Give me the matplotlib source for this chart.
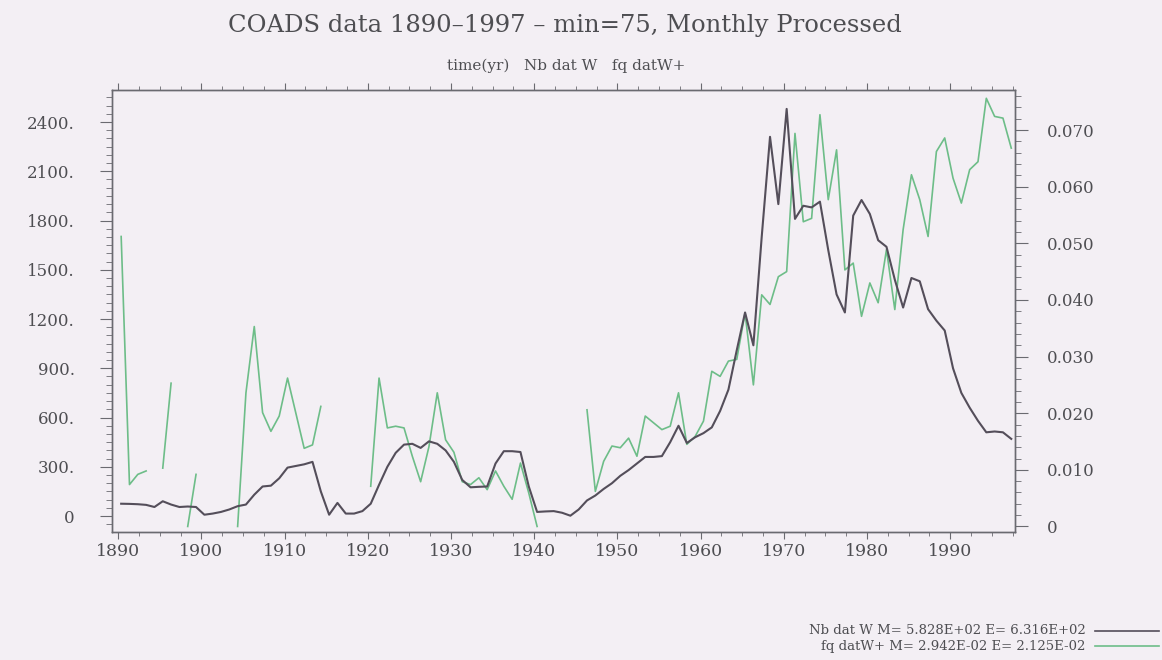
import numpy as np
import matplotlib
matplotlib.use("Agg")
import matplotlib.pyplot as plt
from matplotlib.ticker import MultipleLocator, FuncFormatter

# Annual series, 1890-1997
years = np.arange(1890, 1998)

# Nb dat W (left axis)
nb_dat_w = [
    75, 74, 72, 68, 55, 90, 70, 55, 58, 55,            # 1890-1899
    8, 15, 25, 40, 60, 70, 130, 180, 185, 230,         # 1900-1909
    295, 305, 315, 330, 150, 8, 80, 15, 15, 30,        # 1910-1919
    75, 190, 300, 385, 435, 440, 415, 455, 440, 400,   # 1920-1929
    330, 220, 175, 178, 180, 320, 395, 395, 390, 180,  # 1930-1939
    25, 28, 30, 20, 2, 40, 95, 125, 165, 200,          # 1940-1949
    245, 280, 320, 360, 360, 365, 450, 550, 445, 480,  # 1950-1959
    505, 540, 640, 770, 1010, 1240, 1040, 1700, 2310, 1900,   # 1960-1969
    2480, 1810, 1890, 1880, 1915, 1620, 1350, 1240, 1830, 1925,  # 1970-1979
    1840, 1680, 1640, 1440, 1270, 1450, 1430, 1260, 1190, 1130,  # 1980-1989
    900, 750, 660, 580, 510, 515, 510, 470,            # 1990-1997
]

# fq datW+ (right axis), gaps where no value
nan = np.nan
fq_datw = [
    0.0512, 0.0074, 0.0092, 0.0098, nan, 0.0103, 0.0253, nan, 0.0, 0.0092,      # 1890-1899
    nan, nan, nan, nan, 0.0, 0.0236, 0.0353, 0.0201, 0.0168, 0.0195,          # 1900-1909
    0.0262, 0.0200, 0.0138, 0.0144, 0.0212, nan, nan, nan, nan, nan,          # 1910-1919
    0.0071, 0.0262, 0.0174, 0.0177, 0.0174, 0.0124, 0.0079, 0.0141, 0.0236, 0.0153,  # 1920-1929
    0.0131, 0.0079, 0.0074, 0.0086, 0.0065, 0.0098, 0.0071, 0.0048, 0.0112, 0.0059,  # 1930-1939
    0.0, nan, nan, nan, nan, nan, 0.0206, 0.0062, 0.0115, 0.0142,            # 1940-1949
    0.0139, 0.0156, 0.0124, 0.0195, 0.0183, 0.0171, 0.0177, 0.0236, 0.0145, 0.0159,  # 1950-1959
    0.0186, 0.0274, 0.0265, 0.0292, 0.0295, 0.0377, 0.0250, 0.0409, 0.0392, 0.0441,  # 1960-1969
    0.0450, 0.0694, 0.0538, 0.0544, 0.0727, 0.0577, 0.0665, 0.0453, 0.0465, 0.0371,  # 1970-1979
    0.0430, 0.0395, 0.0489, 0.0383, 0.0524, 0.0621, 0.0577, 0.0512, 0.0662, 0.0686,  # 1980-1989
    0.0615, 0.0571, 0.0630, 0.0644, 0.0756, 0.0724, 0.0721, 0.0668,          # 1990-1997
]

title = "COADS data 1890\u20131997 \u2013 min=75, Monthly Processed"
subtitle = "time(yr)   Nb dat W   fq datW+"
legend_rows = ["Nb dat W M= 5.828E+02 E= 6.316E+02",
               "fq datW+ M= 2.942E-02 E= 2.125E-02"]

bg = "#f3eff4"
dark = "#544e5a"
green = "#6dbd88"
txt = "#4e4e52"
frame = "#6a6a70"

plt.rcParams["font.family"] = ["DejaVu Serif"]

fig = plt.figure(figsize=(11.62, 6.60), dpi=100, facecolor=bg)
ax = fig.add_axes([0.0964, 0.194, 0.7771, 0.6696], facecolor=bg)
ax2 = ax.twinx()

# points sit a bit past the start of each year
xpos = years + 0.35
ax.plot(xpos, nb_dat_w, color=dark, lw=1.5, zorder=3)
ax2.plot(xpos, fq_datw, color=green, lw=1.2, zorder=2)
ax.set_zorder(ax2.get_zorder() + 1)
ax.patch.set_visible(False)
ax2.patch.set_visible(True)
ax2.patch.set_facecolor(bg)

ax.set_xlim(1889.25, 1997.8)
ax.set_ylim(-97, 2595)
ax2.set_ylim(-0.00097, 0.07706)

ax.xaxis.set_major_locator(MultipleLocator(10))
ax.xaxis.set_minor_locator(MultipleLocator(2.5))
ax.yaxis.set_major_locator(MultipleLocator(300))
ax.yaxis.set_minor_locator(MultipleLocator(50))
ax2.yaxis.set_major_locator(MultipleLocator(0.01))
ax2.yaxis.set_minor_locator(MultipleLocator(0.002))

ax.yaxis.set_major_formatter(FuncFormatter(lambda v, p: "0" if v == 0 else f"{int(v)}."))
ax2.yaxis.set_major_formatter(FuncFormatter(lambda v, p: "0" if abs(v) < 1e-9 else f"{v:.3f}"))

for a in (ax, ax2):
    for s in a.spines.values():
        s.set_color(frame)
        s.set_linewidth(1.0)

ax.tick_params(axis="x", which="both", direction="out", top=True, colors=frame,
               labelcolor=txt, labelsize=12.5, pad=3)
ax.tick_params(axis="x", which="major", length=5)
ax.tick_params(axis="x", which="minor", length=3)
ax.tick_params(axis="y", which="major", direction="out", length=9, colors=frame,
               labelcolor=txt, labelsize=12, pad=18)
ax.tick_params(axis="y", which="minor", direction="out", length=4, colors=frame)
ax2.tick_params(axis="y", which="major", direction="out", length=9, colors=frame,
                labelcolor=txt, labelsize=12, pad=14)
ax2.tick_params(axis="y", which="minor", direction="out", length=4, colors=frame)

fig.text(0.486, 0.962, title, ha="center", va="center", fontsize=17.5, color=txt)
fig.text(0.487, 0.900, subtitle, ha="center", va="center", fontsize=11, color=txt)

# key at the bottom right
for i, (row, col) in enumerate(zip(legend_rows, (dark, green))):
    yk = 0.044 - i * 0.023
    fig.text(0.934, yk, row, ha="right", va="center", fontsize=9.5, color=txt)
    fig.add_artist(plt.Line2D([0.942, 0.997], [yk, yk], color=col, lw=1.2,
                              transform=fig.transFigure))

fig.savefig("out.png", dpi=100, facecolor=bg)
